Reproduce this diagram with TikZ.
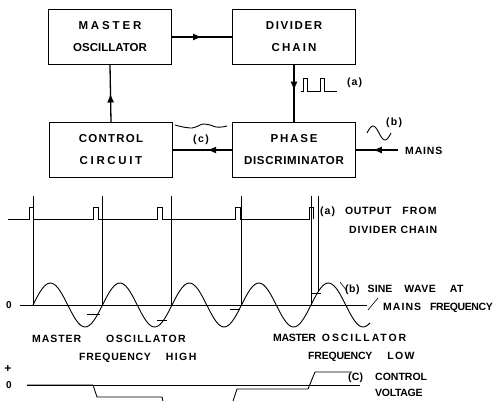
\documentclass[tikz,border=0pt]{standalone}
\usepackage{fontspec}
\usetikzlibrary{arrows.meta,decorations.markings}
\newfontfamily\lettering{Liberation Sans}
\newcommand{\lspaced}[2]{{\addfontfeature{LetterSpace=#1}#2}}

\begin{document}
\begin{tikzpicture}[x=1pt,y=-1pt,
  block/.style={draw,line width=1.3pt,minimum width=123pt,minimum height=55pt,inner sep=0pt,align=center,font=\lettering\bfseries\fontsize{11.5}{22}\selectfont},
  caption/.style={anchor=west,inner sep=0pt,font=\lettering\bfseries\fontsize{10.5}{10.5}\selectfont},
  link/.style={line width=1.3pt},
  midarrow/.style={postaction={decorate},decoration={markings,mark=at position #1 with {\arrow{Latex[length=9pt,width=7pt]}}}},
  wave/.style={line width=0.9pt},
  marker/.style={line width=0.6pt}]
  \useasboundingbox (0,0) rectangle (495,400);
  % block diagram
  \node[block] (mo) at (110,37) {\lspaced{25}{MASTER}\\\lspaced{0}{OSCILLATOR}};
  \node[block] (dc) at (294,37) {\lspaced{14}{DIVIDER}\\\lspaced{18}{CHAIN}};
  \node[block] (cc) at (111,150) {\lspaced{11}{CONTROL}\\\lspaced{23}{CIRCUIT}};
  \node[block] (pd) at (294,150) {\lspaced{16}{PHASE}\\\lspaced{6}{DISCRIMINATOR}};
  \coordinate (mains) at (398,150);
  \draw[link,midarrow=0.5] (mo.east) -- (dc.west);
  \draw[link,midarrow=0.45] (dc.south) -- (pd.north);
  \draw[link,midarrow=0.42] (pd.west) -- (cc.east);
  \draw[link,midarrow=0.5] (cc.north) -- (mo.south);
  \draw[link,midarrow=0.6] (mains) -- (pd.east);
  \node[caption] (mainslbl) at (405,151) {\lspaced{8}{MAINS}};
  % little signal sketches
  \draw[wave] (301,91) -- (303,91) -- (303,78) -- (307,78) -- (307,91) -- (320,91) -- (320,78) -- (324,78) -- (324,91) -- (337,91);
  \node[caption] (albl) at (347,83) {\lspaced{10}{(a)}};
  \draw[wave] plot[domain=0:24,samples=30] ({367+\x},{133-7*sin(15*\x)});
  \node[caption] (blbl) at (386,123) {\lspaced{12}{(b)}};
  \draw[wave] plot[smooth] coordinates {(175,125) (183,127) (192,128) (198,126) (203,124) (210,125) (216,127) (222,127) (227,126)};
  \node[caption] (clbl) at (193,140) {\lspaced{13}{(c)}};
  % (a) divider output
  \draw[wave] (8,219) foreach \a/\b in {29/33,93/98,157/162,235/240,309/313} { -- (\a,219) -- (\a,207) -- (\b,207) -- (\b,219) };
  \foreach \x in {33,102,171,241,311} \draw[marker] (\x,196) -- (\x,305);
  \draw[marker] (318,196) -- (318,292);
  % (b) mains sine wave
  \draw[marker] (20,305) -- (367,305);
  \draw[wave] plot[domain=33:370,samples=150] (\x,{305-22*sin(5.18*(\x-33))});
  \draw[marker] (87,314) -- (100,314) (157,320) -- (167,320) (230,309) -- (240,309) (312,293) -- (321,293);
  \draw[marker] (340,282) -- (347,291);
  \draw[marker] (368,310) -- (378,298);
  \node[font=\lettering\bfseries\fontsize{10}{10}\selectfont] (zerob) at (9,305) {0};
  % (c) control voltage
  \draw[marker] (27,385) -- (360,385);
  \begin{scope}
    \clip (0,0) rectangle (495,400);
    \draw[wave] (27,385) -- (93,385) -- (97,397) -- (162,397) -- (165,410);
    \draw[wave] (230,410) -- (237,389) -- (308,389) -- (315,372) -- (352,372);
  \end{scope}
  \node[font=\lettering\bfseries\fontsize{12}{12}\selectfont] (plusc) at (8,369) {+};
  \node[font=\lettering\bfseries\fontsize{10}{10}\selectfont] (zeroc) at (9,385) {0};
  % captions
  \node[caption] (capa) at (320,212) {\lspaced{10}{(a)}\hspace{10pt}\lspaced{6}{OUTPUT}\hspace{11pt}\lspaced{10}{FROM}};
  \node[caption] (capa2) at (349,230) {\lspaced{8}{DIVIDER CHAIN}};
  \node[caption] (capb) at (345,290) {\lspaced{5}{(b)}\hspace{8pt}\lspaced{1}{SINE}\hspace{12pt}\lspaced{4}{WAVE}\hspace{14pt}\lspaced{5}{AT}};
  \node[caption] (capb2) at (383,308) {\lspaced{10}{MAINS}\hspace{9pt}\lspaced{-4}{FREQUENCY}};
  \node[caption] (hi1) at (32,339) {\lspaced{9}{MASTER}\hspace{25pt}\lspaced{13}{OSCILLATOR}};
  \node[caption] (hi2) at (79,358) {\lspaced{7}{FREQUENCY}\hspace{15pt}\lspaced{13}{HIGH}};
  \node[caption] (lo1) at (273,338) {\lspaced{-3}{MASTER}\hspace{6pt}\lspaced{18}{OSCILLATOR}};
  \node[caption] (lo2) at (308,357) {\lspaced{-2}{FREQUENCY}\hspace{15pt}\lspaced{12}{LOW}};
  \node[caption] (capc) at (348,378) {\lspaced{2}{(C)}\hspace{12pt}\lspaced{0}{CONTROL}};
  \node[caption] (capc2) at (375,393) {\lspaced{-3}{VOLTAGE}};
\end{tikzpicture}
\end{document}
